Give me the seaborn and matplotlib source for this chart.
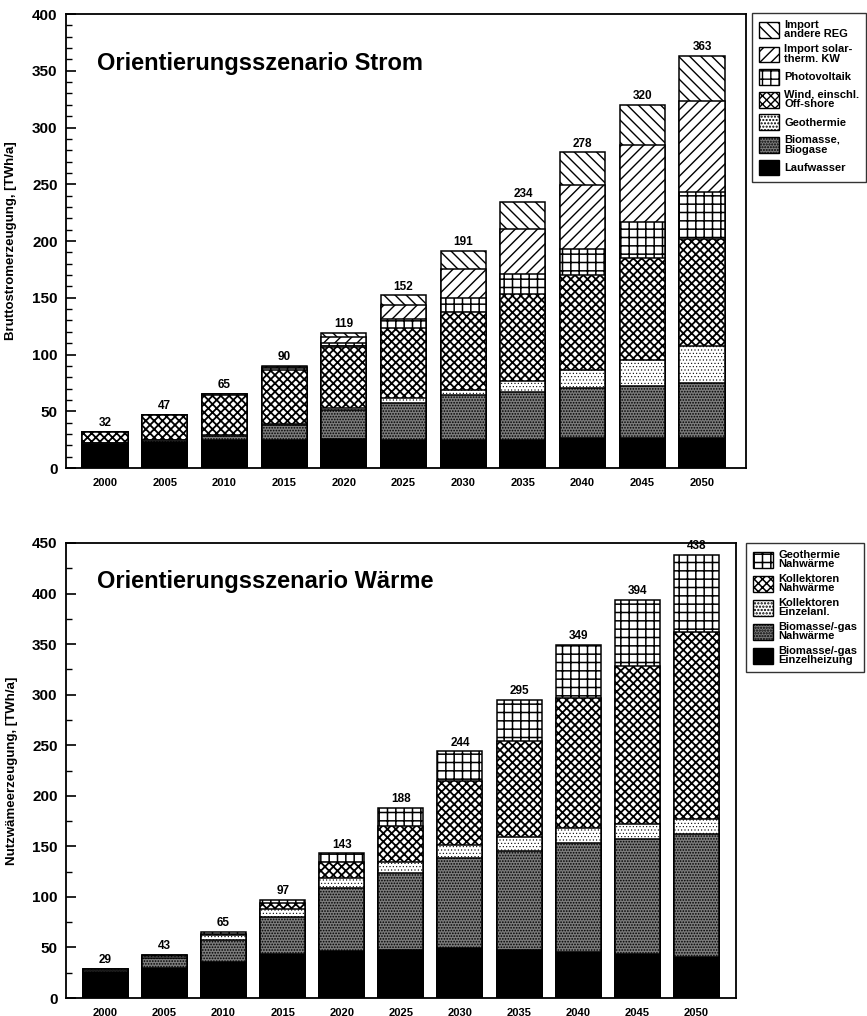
import numpy as np
import matplotlib
matplotlib.use("Agg")
import matplotlib.pyplot as plt
from matplotlib.patches import Patch
from matplotlib.ticker import MultipleLocator
import seaborn as sns

# ---------------- data ----------------
years = ["2000", "2005", "2010", "2015", "2020", "2025", "2030", "2035", "2040", "2045", "2050"]

# Strom, stack order bottom -> top  [TWh/a]
strom_laufwasser = [21.5, 23, 24.5, 25, 25.5, 25, 25, 25, 26, 26, 26]
strom_biomasse = [0.5, 1.5, 4, 13, 25.5, 32.5, 39, 42, 44.5, 46.5, 48.5]
strom_geothermie = [0, 0.2, 0.5, 1, 2, 4, 5, 10, 15.5, 22.5, 33]
strom_wind = [10, 22, 35.5, 47.5, 53.5, 61.5, 68.5, 76.5, 84, 90, 94.5]
strom_pv = [0, 0.3, 0.5, 1.5, 3.5, 8, 12.5, 17.5, 23, 31.5, 41]
strom_solar_import = [0, 0, 0, 1, 5, 13, 25, 40, 56, 68, 80]
strom_andere_import = [0, 0, 0, 1, 4, 8, 16, 23, 29, 35.5, 40]
strom_totals = [32, 47, 65, 90, 119, 152, 191, 234, 278, 320, 363]
strom_labels = ["Laufwasser", "Biomasse,\nBiogase", "Geothermie", "Wind, einschl.\nOff-shore",
                "Photovoltaik", "Import solar-\ntherm. KW", "Import\nandere REG"]

# Wärme, stack order bottom -> top  [TWh/a]
waerme_bio_einzel = [25.5, 29.5, 35.5, 43.5, 46.5, 47.5, 49, 47, 45.5, 43.5, 41]
waerme_bio_nah = [2, 10.5, 22, 37, 62, 76, 89, 98.5, 107.5, 114, 121]
waerme_koll_einzel = [1, 2, 4.5, 8, 10.5, 11.5, 13, 14, 15.5, 15, 15.5]
waerme_koll_nah = [0, 0.5, 1.5, 5, 15.5, 35.5, 64, 95, 128, 155.5, 184.5]
waerme_geo_nah = [0.5, 0.5, 1.5, 3.5, 8.5, 17.5, 29, 40.5, 52.5, 66, 76]
waerme_totals = [29, 43, 65, 97, 143, 188, 244, 295, 349, 394, 438]
waerme_labels = ["Biomasse/-gas\nEinzelheizung", "Biomasse/-gas\nNahwärme", "Kollektoren\nEinzelanl.",
                 "Kollektoren\nNahwärme", "Geothermie\nNahwärme"]

# ---------------- style ----------------
sns.set_style("ticks")
plt.rcParams["font.family"] = ["Liberation Sans", "DejaVu Sans"]
plt.rcParams["font.weight"] = "bold"
plt.rcParams["text.color"] = "black"
plt.rcParams["axes.labelcolor"] = "black"
plt.rcParams["xtick.color"] = "black"
plt.rcParams["ytick.color"] = "black"
plt.rcParams["hatch.linewidth"] = 1.1
plt.rcParams["axes.linewidth"] = 1.3
plt.rcParams["axes.edgecolor"] = "black"

# (facecolor, hatch, hatch linewidth)
LAUF = ("black", None, 1.0)
BIO = ("#7c7c7c", "......", 0.8)
GEO = ("white", ".....", 0.4)
WIND = ("white", "xxxx", 1.3)
PV = ("white", "++", 1.1)
SOLAR = ("white", "///", 1.0)
IMPORT = ("white", "\\\\\\", 1.0)
strom_styles = [LAUF, BIO, GEO, WIND, PV, SOLAR, IMPORT]
waerme_styles = [LAUF, BIO, GEO, WIND, PV]

W, H = 867, 1016
fig = plt.figure(figsize=(W / 100, H / 100), dpi=100)


def set_hlw(patches, lw):
    for p in patches:
        if hasattr(p, "set_hatch_linewidth"):
            p.set_hatch_linewidth(lw)


def stacked(ax, layers, styles, totals, width):
    cum = np.cumsum(np.array(layers, dtype=float), axis=0)
    for i in range(len(layers) - 1, -1, -1):
        fc, hatch, hlw = styles[i]
        plt.rcParams["hatch.linewidth"] = hlw
        sns.barplot(x=years, y=cum[i], order=years, color=fc, saturation=1,
                    edgecolor="black", linewidth=1.1, hatch=hatch, width=width,
                    errorbar=None, ax=ax)
        set_hlw(ax.containers[-1], hlw)
    ax.bar_label(ax.containers[0], labels=[str(t) for t in totals], padding=2,
                 fontsize=8.5, fontweight="bold")


def style_axes(ax, ymax, major, minor, xlim, ylabel, title, title_xy):
    ax.set_ylim(0, ymax)
    ax.set_xlim(*xlim)
    ax.yaxis.set_major_locator(MultipleLocator(major))
    ax.yaxis.set_minor_locator(MultipleLocator(minor))
    ax.tick_params(axis="y", which="major", direction="in", length=7, width=1.2,
                   labelsize=11, pad=6, right=False)
    ax.tick_params(axis="y", which="minor", direction="in", length=4, width=1.0, right=False)
    ax.tick_params(axis="x", length=0, labelsize=8, pad=7)
    for lab in ax.get_xticklabels() + ax.get_yticklabels():
        lab.set_fontweight("bold")
    for s in ax.spines.values():
        s.set_visible(True)
        s.set_linewidth(1.3)
    ax.set_xlabel("")
    ax.set_ylabel(ylabel, fontsize=9.5, fontweight="bold")
    ax.yaxis.set_label_coords(-0.072, 0.5)
    ax.text(title_xy[0], title_xy[1], title, transform=ax.transAxes, fontsize=17,
            fontweight="bold", va="center", ha="left")


def legend(fig, labels, styles, anchor, fontsize, spacing):
    handles = []
    for (fc, h, hlw), l in zip(styles, labels):
        plt.rcParams["hatch.linewidth"] = hlw
        p = Patch(facecolor=fc, edgecolor="black", hatch=h, linewidth=1.0, label=l)
        set_hlw([p], hlw)
        handles.append(p)
    handles = handles[::-1]
    leg = fig.legend(handles=handles, loc="upper left", bbox_to_anchor=anchor,
                     bbox_transform=fig.transFigure, fontsize=fontsize, frameon=True,
                     fancybox=False, edgecolor="black", handlelength=1.8, handleheight=1.8,
                     handletextpad=0.5, labelspacing=spacing, borderpad=0.6,
                     borderaxespad=0)
    leg.get_frame().set_linewidth(1.0)
    for t in leg.get_texts():
        t.set_fontweight("bold")
        t.set_linespacing(0.95)
    return leg


# ---------------- top: Strom ----------------
ax1 = fig.add_axes([66 / W, 1 - 468 / H, 680 / W, 454 / H])
stacked(ax1, [strom_laufwasser, strom_biomasse, strom_geothermie, strom_wind, strom_pv,
              strom_solar_import, strom_andere_import], strom_styles, strom_totals, 0.755)
style_axes(ax1, 400, 50, 10, (-0.653, 10.737), "Bruttostromerzeugung, [TWh/a]",
           "Orientierungsszenario Strom", (0.046, 0.89))
legend(fig, strom_labels, strom_styles, (752 / W, 1 - 13 / H), 8, 0.45)

# ---------------- bottom: Wärme ----------------
ax2 = fig.add_axes([66 / W, 1 - 998 / H, 670 / W, 455 / H])
stacked(ax2, [waerme_bio_einzel, waerme_bio_nah, waerme_koll_einzel, waerme_koll_nah,
              waerme_geo_nah], waerme_styles, waerme_totals, 0.76)
style_axes(ax2, 450, 50, 25, (-0.665, 10.67), "Nutzwämeerzeugung, [TWh/a]",
           "Orientierungsszenario Wärme", (0.046, 0.916))
legend(fig, waerme_labels, waerme_styles, (746 / W, 1 - 543 / H), 8, 0.4)

fig.savefig("out.png", dpi=100)
